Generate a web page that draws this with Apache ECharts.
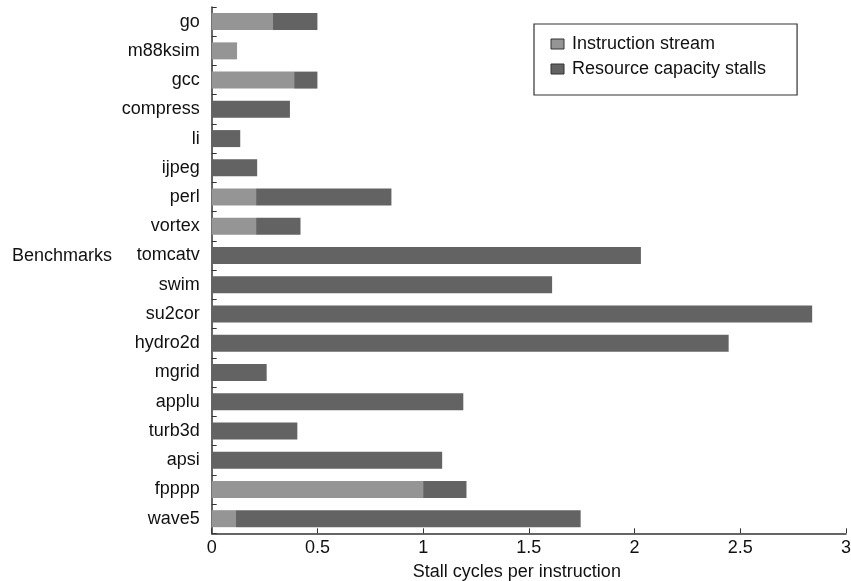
<!DOCTYPE html>
<html>
<head>
<meta charset="utf-8">
<script src="https://cdn.jsdelivr.net/npm/echarts@6/dist/echarts.min.js"></script>
<style>html,body{margin:0;padding:0;background:#fff;}#c{width:851px;height:581px;}</style>
</head>
<body>
<div id="c"></div>
<script>
const categories = ['go','m88ksim','gcc','compress','li','ijpeg','perl','vortex','tomcatv','swim','su2cor','hydro2d','mgrid','applu','turb3d','apsi','fpppp','wave5'];
const instructionStream = [0.29,0.12,0.39,0,0,0,0.21,0.21,0,0,0,0,0,0,0,0,1.0,0.115];
const resourceStalls = [0.21,0,0.11,0.37,0.135,0.215,0.64,0.21,2.03,1.61,2.84,2.445,0.26,1.19,0.405,1.09,0.205,1.63];
const xTicks = [0,0.5,1,1.5,2,2.5,3];
const yAxisTitle = 'Benchmarks';

const FONT = 'Liberation Sans, Arial, Helvetica, sans-serif';
const FS = 18;
const chart = echarts.init(document.getElementById('c'), null, {renderer:'canvas'});
chart.setOption({
  animation:false,
  backgroundColor:'#fff',
  textStyle:{fontFamily:FONT},
  grid:{left:211.7, right:5, top:7, bottom:47.7, containLabel:false, outerBoundsMode:'none'},
  legend:{
    orient:'vertical', left:534, top:24, 
    padding:[11,31,17,16.5],
    borderColor:'#333', borderWidth:1.2,
    itemWidth:13, itemHeight:10, itemGap:7,
    icon:'rect',
    itemStyle:{borderColor:'#333', borderWidth:1},
    textStyle:{fontSize:FS, color:'#111', fontFamily:FONT, padding:[0,0,0,3]},
    data:['Instruction stream','Resource capacity stalls']
  },
  graphic:[{
    type:'text', x:112, y:256,
    style:{text:yAxisTitle, font:FS+'px '+FONT, fill:'#111', align:'right', verticalAlign:'middle'}
  }],
  xAxis:{
    type:'value', min:xTicks[0], max:xTicks[xTicks.length-1], interval:0.5,
    axisLine:{show:true, lineStyle:{color:'#333', width:1.5}},
    axisTick:{show:true, inside:true, length:5, lineStyle:{color:'#333'}},
    splitLine:{show:false},
    axisLabel:{fontSize:FS, color:'#111', margin:6, fontFamily:FONT},
    name:'Stall cycles per instruction', nameLocation:'middle', nameGap:30,
    nameTextStyle:{fontSize:FS, color:'#111', fontFamily:FONT, padding:[0,24,0,0]}
  },
  yAxis:{
    type:'category', data:categories, inverse:true,
    axisLine:{show:true, lineStyle:{color:'#333', width:1.5}},
    axisTick:{show:true, inside:true, length:5, lineStyle:{color:'#333'}},
    axisLabel:{fontSize:FS, color:'#111', margin:12, fontFamily:FONT}
  },
  series:[
    {name:'Instruction stream', type:'bar', stack:'s', data:instructionStream, barWidth:17,
     itemStyle:{color:'#959595'}},
    {name:'Resource capacity stalls', type:'bar', stack:'s', data:resourceStalls, barWidth:17,
     itemStyle:{color:'#636363'}}
  ]
});
</script>
</body>
</html>
